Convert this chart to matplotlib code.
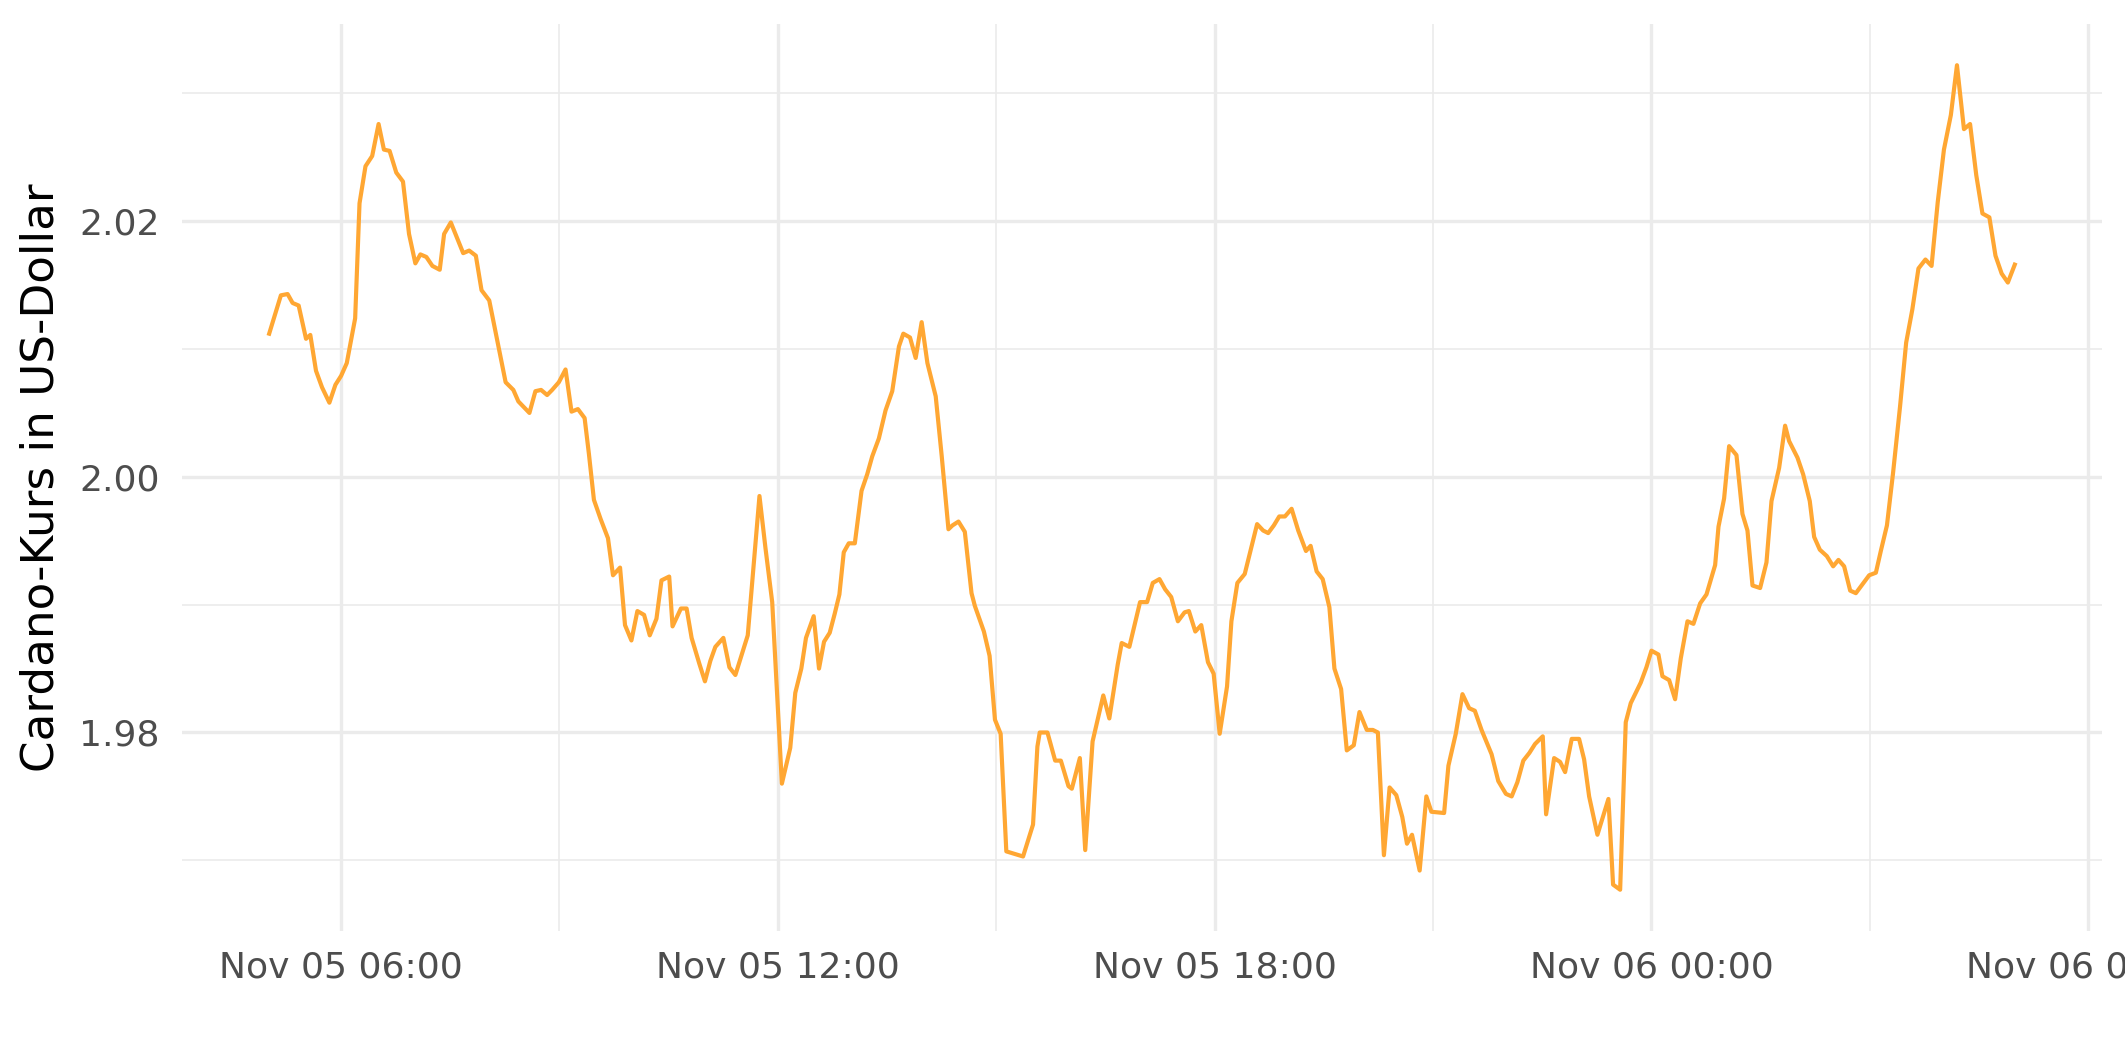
import pandas as pd
import matplotlib
matplotlib.use("Agg")
import matplotlib.pyplot as plt
import matplotlib.dates as mdates

# --- data: hours since 2021-11-05 00:00 and ADA price in USD ---
hours = [
    5.012, 5.173, 5.265, 5.334, 5.417, 5.518, 5.577, 5.655, 5.738, 5.839,
    5.922, 6.000, 6.078, 6.193, 6.253, 6.335, 6.427, 6.515, 6.588, 6.666,
    6.758, 6.850, 6.933, 7.020, 7.089, 7.171, 7.254, 7.355, 7.415, 7.507,
    7.677, 7.759, 7.851, 7.929, 8.035, 8.182, 8.260, 8.366, 8.435, 8.587,
    8.669, 8.747, 8.830, 8.899, 8.991, 9.083, 9.165, 9.253, 9.345, 9.404,
    9.473, 9.565, 9.666, 9.735, 9.832, 9.900, 9.988, 10.070, 10.162, 10.240,
    10.332, 10.401, 10.507, 10.553, 10.668, 10.746, 10.815, 10.920, 10.998, 11.072,
    11.141, 11.251, 11.334, 11.416, 11.586, 11.747, 11.830, 11.922, 12.055, 12.170,
    12.239, 12.322, 12.386, 12.492, 12.565, 12.634, 12.712, 12.781, 12.845, 12.905,
    12.974, 13.057, 13.149, 13.227, 13.296, 13.387, 13.479, 13.571, 13.663, 13.723,
    13.815, 13.893, 13.975, 14.054, 14.168, 14.251, 14.343, 14.398, 14.481, 14.568,
    14.660, 14.706, 14.830, 14.908, 14.982, 15.060, 15.138, 15.368, 15.505, 15.565,
    15.597, 15.703, 15.809, 15.887, 15.992, 16.038, 16.148, 16.222, 16.323, 16.470,
    16.553, 16.668, 16.723, 16.828, 16.975, 17.072, 17.150, 17.242, 17.320, 17.403,
    17.495, 17.587, 17.646, 17.734, 17.816, 17.908, 17.986, 18.069, 18.170, 18.230,
    18.312, 18.413, 18.505, 18.583, 18.666, 18.735, 18.813, 18.887, 18.965, 19.057,
    19.148, 19.254, 19.318, 19.401, 19.484, 19.576, 19.645, 19.737, 19.815, 19.911,
    19.989, 20.090, 20.173, 20.242, 20.325, 20.403, 20.495, 20.577, 20.642, 20.711,
    20.816, 20.908, 20.977, 21.152, 21.211, 21.312, 21.404, 21.496, 21.574, 21.666,
    21.804, 21.896, 22.001, 22.080, 22.158, 22.240, 22.323, 22.401, 22.507, 22.553,
    22.663, 22.745, 22.814, 22.905, 23.006, 23.075, 23.144, 23.258, 23.409, 23.473,
    23.570, 23.647, 23.716, 23.785, 23.853, 23.931, 24.000, 24.096, 24.151, 24.243,
    24.325, 24.403, 24.495, 24.577, 24.669, 24.756, 24.875, 24.921, 24.998, 25.067,
    25.168, 25.250, 25.319, 25.388, 25.493, 25.580, 25.649, 25.754, 25.836, 25.891,
    26.006, 26.084, 26.175, 26.235, 26.313, 26.409, 26.496, 26.569, 26.647, 26.730,
    26.808, 26.899, 26.991, 27.083, 27.151, 27.235, 27.319, 27.415, 27.499, 27.584,
    27.668, 27.764, 27.848, 27.933, 28.018, 28.113, 28.197, 28.293, 28.377, 28.462,
    28.547, 28.642, 28.726, 28.811, 28.896, 28.991,
]
price = [
    2.0112, 2.0142, 2.0143, 2.0136, 2.0134, 2.0108, 2.0111, 2.0083, 2.0070, 2.0058,
    2.0072, 2.0079, 2.0089, 2.0124, 2.0214, 2.0243, 2.0251, 2.0276, 2.0256, 2.0255,
    2.0238, 2.0231, 2.0190, 2.0167, 2.0174, 2.0172, 2.0165, 2.0162, 2.0190, 2.0199,
    2.0175, 2.0177, 2.0173, 2.0146, 2.0138, 2.0096, 2.0074, 2.0068, 2.0059, 2.0050,
    2.0067, 2.0068, 2.0064, 2.0068, 2.0074, 2.0084, 2.0051, 2.0053, 2.0046, 2.0018,
    1.9982, 1.9967, 1.9952, 1.9923, 1.9929, 1.9884, 1.9872, 1.9895, 1.9892, 1.9876,
    1.9889, 1.9919, 1.9922, 1.9883, 1.9897, 1.9897, 1.9874, 1.9854, 1.9840, 1.9856,
    1.9867, 1.9874, 1.9851, 1.9845, 1.9876, 1.9985, 1.9944, 1.9902, 1.9760, 1.9788,
    1.9831, 1.9850, 1.9874, 1.9891, 1.9850, 1.9871, 1.9878, 1.9893, 1.9908, 1.9941,
    1.9948, 1.9948, 1.9989, 2.0002, 2.0016, 2.0030, 2.0052, 2.0067, 2.0102, 2.0112,
    2.0109, 2.0093, 2.0121, 2.0089, 2.0063, 2.0016, 1.9959, 1.9962, 1.9965, 1.9957,
    1.9909, 1.9899, 1.9879, 1.9860, 1.9810, 1.9799, 1.9707, 1.9703, 1.9728, 1.9789,
    1.9800, 1.9800, 1.9778, 1.9778, 1.9758, 1.9756, 1.9780, 1.9708, 1.9793, 1.9829,
    1.9811, 1.9853, 1.9870, 1.9867, 1.9902, 1.9902, 1.9917, 1.9920, 1.9912, 1.9906,
    1.9887, 1.9894, 1.9895, 1.9879, 1.9884, 1.9855, 1.9846, 1.9799, 1.9836, 1.9887,
    1.9917, 1.9924, 1.9945, 1.9963, 1.9958, 1.9956, 1.9962, 1.9969, 1.9969, 1.9975,
    1.9958, 1.9942, 1.9946, 1.9926, 1.9920, 1.9898, 1.9850, 1.9834, 1.9786, 1.9790,
    1.9816, 1.9802, 1.9802, 1.9800, 1.9704, 1.9757, 1.9751, 1.9734, 1.9713, 1.9720,
    1.9692, 1.9750, 1.9738, 1.9737, 1.9774, 1.9799, 1.9830, 1.9819, 1.9817, 1.9802,
    1.9783, 1.9762, 1.9752, 1.9750, 1.9761, 1.9778, 1.9784, 1.9791, 1.9797, 1.9736,
    1.9780, 1.9777, 1.9769, 1.9795, 1.9795, 1.9779, 1.9750, 1.9720, 1.9748, 1.9681,
    1.9677, 1.9808, 1.9823, 1.9831, 1.9839, 1.9851, 1.9864, 1.9861, 1.9844, 1.9841,
    1.9826, 1.9858, 1.9887, 1.9885, 1.9901, 1.9908, 1.9931, 1.9961, 1.9983, 2.0024,
    2.0017, 1.9971, 1.9958, 1.9915, 1.9913, 1.9933, 1.9981, 2.0007, 2.0040, 2.0028,
    2.0015, 2.0002, 1.9981, 1.9953, 1.9943, 1.9938, 1.9930, 1.9935, 1.9930, 1.9911,
    1.9909, 1.9916, 1.9923, 1.9925, 1.9942, 1.9962, 2.0003, 2.0055, 2.0105, 2.0131,
    2.0163, 2.0170, 2.0165, 2.0215, 2.0256, 2.0283, 2.0322, 2.0272, 2.0276, 2.0236,
    2.0206, 2.0203, 2.0173, 2.0159, 2.0152, 2.0166,
]
y_ticks = [1.98, 2.00, 2.02]
y_minor = [1.97, 1.99, 2.01, 2.03]
y_title = "Cardano-Kurs in US-Dollar"

base = pd.Timestamp("2021-11-05")
times = base + pd.to_timedelta(hours, unit="h")

fig = plt.figure(figsize=(10.625, 5.31), dpi=200)
ax = fig.add_axes([0.0856, 0.1234, 0.9892 - 0.0856, 0.9774 - 0.1234])

ax.plot(times, price, color="#FFA733", lw=1.5, zorder=3)

# ggplot-like expansion (5%)
span = max(hours) - min(hours)
ax.set_xlim(base + pd.Timedelta(hours=min(hours) - 0.05 * span),
            base + pd.Timedelta(hours=max(hours) + 0.05 * span))
yr = max(price) - min(price)
ax.set_ylim(min(price) - 0.05 * yr, max(price) + 0.05 * yr)

ax.xaxis.set_major_locator(mdates.HourLocator(byhour=[0, 6, 12, 18]))
ax.xaxis.set_minor_locator(mdates.HourLocator(byhour=[3, 9, 15, 21]))
ax.xaxis.set_major_formatter(mdates.DateFormatter("%b %d %H:%M"))
ax.set_yticks(y_ticks)
ax.set_yticks(y_minor, minor=True)
ax.set_yticklabels([f"{v:.2f}" for v in y_ticks])

ax.grid(True, which="major", color="#EBEBEB", lw=1.2)
ax.grid(True, which="minor", color="#EBEBEB", lw=0.6)
ax.set_axisbelow(True)
for s in ax.spines.values():
    s.set_visible(False)
ax.tick_params(which="both", length=0)
ax.tick_params(axis="x", labelsize=13, labelcolor="#4D4D4D", pad=7)
ax.tick_params(axis="y", labelsize=13, labelcolor="#4D4D4D", pad=8)

fig.text(41 / 2125, 0.5504, y_title, rotation=90, va="center", ha="center",
         fontsize=16.3, color="black")

fig.savefig("out.png", dpi=200, facecolor="white")
